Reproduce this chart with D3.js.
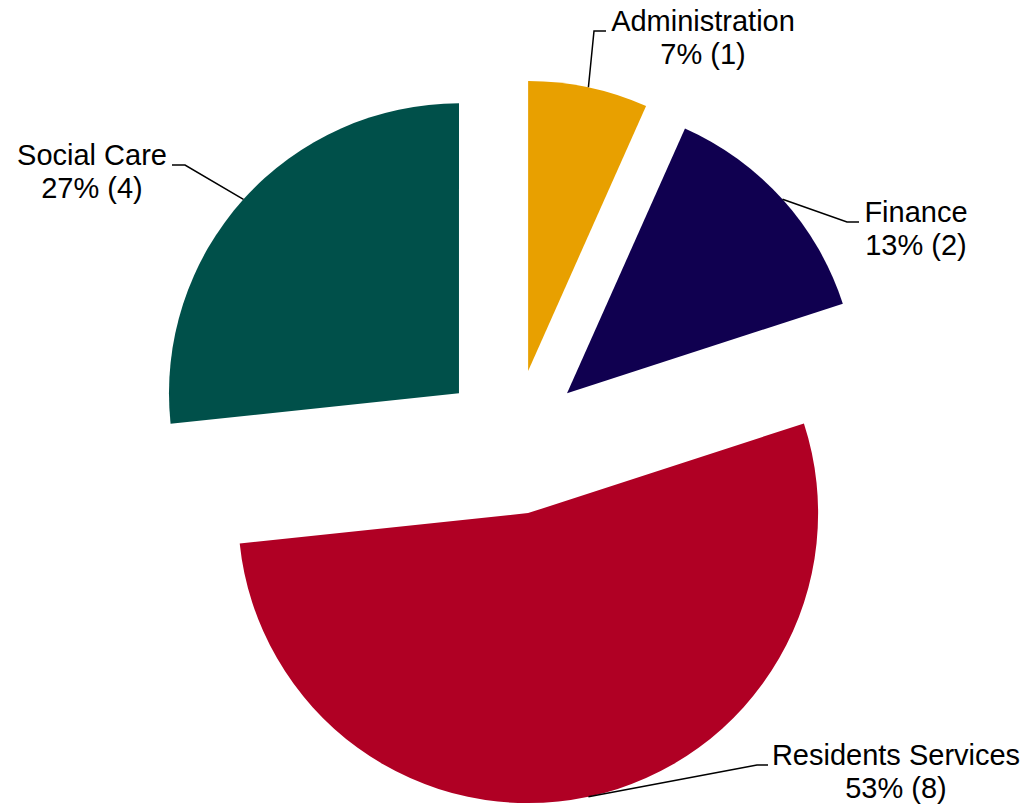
<!DOCTYPE html>
<html>
<head>
<meta charset="utf-8">
<script src="https://cdn.jsdelivr.net/npm/d3@7"></script>
<style>
  html, body { margin: 0; padding: 0; background: #fff; }
  svg { display: block; }
  .slice-label { font-family: "Liberation Sans", Arial, sans-serif; font-size: 29px; fill: #000; }
</style>
</head>
<body>
<div id="chart"></div>
<script>
const categories = ["Administration", "Finance", "Residents Services", "Social Care"];
const counts = [1, 2, 8, 4];
const colors = ["#E8A000", "#100050", "#B00024", "#00504A"];

// label layout: elbow point and text anchor (first baseline), in page pixels
const LABEL_LAYOUT = [
  { elbow: [594, 31], end: [606, 31], text: [703, 31] },
  { elbow: [847, 222], end: [859, 222], text: [916, 222] },
  { elbow: [757, 765], end: [768, 765], text: [896, 765] },
  { elbow: [185, 165], end: [172, 165], text: [92, 165] },
];

const WIDTH = 1028;
const HEIGHT = 805;
const CENTER = [513, 442];
const RADIUS = 290;
const EXPLODE = 72.7;
const LINE_HEIGHT = 33;

const total = d3.sum(counts);
const rows = categories.map((name, i) => ({ name, value: counts[i], color: colors[i], layout: LABEL_LAYOUT[i] }));

const svg = d3.select("#chart")
  .append("svg")
  .attr("width", WIDTH)
  .attr("height", HEIGHT);

const pie = d3.pie().sort(null).value((d) => d.value);
const arc = d3.arc().innerRadius(0).outerRadius(RADIUS);
const arcs = pie(rows);

function offsetOf(d, dist) {
  const mid = (d.startAngle + d.endAngle) / 2;
  return [Math.sin(mid) * dist, -Math.cos(mid) * dist];
}

const g = svg.append("g").attr("transform", `translate(${CENTER[0]},${CENTER[1]})`);

g.selectAll(".slice")
  .data(arcs)
  .join("path")
  .attr("class", "slice")
  .attr("fill", (d) => d.data.color)
  .attr("transform", (d) => {
    const [ox, oy] = offsetOf(d, EXPLODE);
    return `translate(${ox},${oy})`;
  })
  .attr("d", arc);

// leader lines
const leaders = svg.append("g").attr("class", "leaders");
arcs.forEach((d) => {
  const [sx, sy] = offsetOf(d, EXPLODE + RADIUS);
  const start = [CENTER[0] + sx, CENTER[1] + sy];
  const lay = d.data.layout;
  leaders.append("polyline")
    .attr("points", [start, lay.elbow, lay.end].map((p) => p.join(",")).join(" "))
    .attr("fill", "none")
    .attr("stroke", "#000")
    .attr("stroke-width", 1.5);
});

// labels
const labels = svg.append("g").attr("class", "labels");
arcs.forEach((d) => {
  const lay = d.data.layout;
  const pct = Math.round((d.data.value / total) * 100);
  const t = labels.append("text")
    .attr("class", "slice-label")
    .attr("text-anchor", "middle")
    .attr("x", lay.text[0])
    .attr("y", lay.text[1]);
  t.append("tspan").attr("x", lay.text[0]).text(d.data.name);
  t.append("tspan").attr("x", lay.text[0]).attr("dy", LINE_HEIGHT).text(`${pct}% (${d.data.value})`);
});
</script>
</body>
</html>
